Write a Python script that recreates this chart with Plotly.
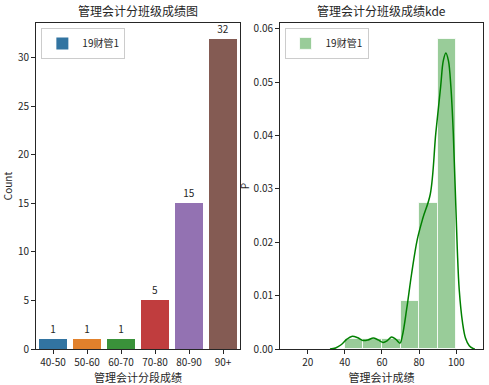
import plotly.graph_objects as go

# ---- data ----
seg_labels = ["40-50", "50-60", "60-70", "70-80", "80-90", "90+"]
seg_counts = [1, 1, 1, 5, 15, 32]
bar_colors = ["#3274a1", "#e1812c", "#3a923a", "#c03d3e", "#9372b2", "#845b53"]

hist_centers = [45, 55, 65, 75, 85, 95]
hist_counts = [1, 1, 1, 5, 15, 32]
bin_width = 10

kde_x = [32, 35, 38, 41, 43.7, 47, 49.8, 52.5, 55.3, 58, 60.7, 63, 65.2, 67.5, 69.7,
         71, 73.3, 76, 79, 82, 86, 89, 91.6, 93, 94.4, 95.8, 97.1, 98.4, 100.5,
         101.6, 103.4, 105, 107, 109, 110]
kde_y = [0.0, 0.0002, 0.0008, 0.0018, 0.00236, 0.0021, 0.0016, 0.0017, 0.00206, 0.0017,
         0.00124, 0.0016, 0.00225, 0.0018, 0.0011, 0.0025, 0.0075, 0.0142, 0.0205,
         0.0245, 0.0290, 0.0405, 0.0492, 0.0540, 0.0555, 0.0540, 0.0492, 0.0405,
         0.0192, 0.0111, 0.0049, 0.0020, 0.0006, 0.0001, 0.0]

n_total = sum(hist_counts)
hist_density = [c / (n_total * bin_width) for c in hist_counts]

FONT = "Noto Sans CJK SC"
INK = "#262626"

fig = go.Figure()

fig.add_trace(go.Bar(
    x=seg_labels, y=seg_counts, marker=dict(color=bar_colors, line=dict(width=0)),
    width=0.8, name="19财管1", text=[str(v) for v in seg_counts],
    textposition="outside", cliponaxis=False,
    textfont=dict(size=10, color=INK, family=FONT),
    xaxis="x", yaxis="y", legend="legend", showlegend=True,
))

fig.add_trace(go.Bar(
    x=hist_centers, y=hist_density, width=bin_width,
    marker=dict(color="rgba(0,128,0,0.4)", line=dict(color="rgba(255,255,255,0.8)", width=1)),
    name="19财管1", xaxis="x2", yaxis="y2", legend="legend2", showlegend=True,
))

fig.add_trace(go.Scatter(
    x=kde_x, y=kde_y, mode="lines", line=dict(color="green", width=1.5, shape="spline"),
    xaxis="x2", yaxis="y2", showlegend=False,
))

axis_common = dict(showline=True, linecolor=INK, linewidth=1, mirror=True,
                   ticks="outside", ticklen=4, tickcolor=INK, showgrid=False,
                   zeroline=False, tickfont=dict(size=10, color=INK, family=FONT))

fig.update_layout(
    width=489, height=385,
    margin=dict(l=36, r=6, t=23, b=36),
    paper_bgcolor="white", plot_bgcolor="white",
    font=dict(family=FONT, color=INK, size=10),
    bargap=0,
    xaxis=dict(domain=[0, 0.4564], range=[-0.5, 5.5], type="category",
               title=dict(text="管理会计分段成绩", font=dict(size=11), standoff=2), **axis_common),
    yaxis=dict(range=[0, 33.6], tickvals=[0, 5, 10, 15, 20, 25, 30],
               title=dict(text="Count", font=dict(size=10), standoff=4), **axis_common),
    xaxis2=dict(domain=[0.5459, 1], range=[5.1, 114.4], tickvals=[20, 40, 60, 80, 100],
                anchor="y2",
                title=dict(text="管理会计成绩", font=dict(size=11), standoff=2), **axis_common),
    yaxis2=dict(range=[0, 0.0611], tickvals=[0, 0.01, 0.02, 0.03, 0.04, 0.05, 0.06],
                tickformat=".2f", anchor="x2",
                title=dict(text="P", font=dict(size=10), standoff=2), **axis_common),
    legend=dict(x=0.012, y=0.985, xanchor="left", yanchor="top",
                bordercolor="#cccccc", borderwidth=1, bgcolor="white",
                tracegroupgap=0, itemwidth=30,
                font=dict(size=10, family=FONT, color=INK)),
    legend2=dict(x=0.556, y=0.985, xanchor="left", yanchor="top",
                 bordercolor="#cccccc", borderwidth=1, bgcolor="white",
                 tracegroupgap=0, itemwidth=30,
                 font=dict(size=10, family=FONT, color=INK)),
    annotations=[
        dict(text="管理会计分班级成绩图", x=0.2282, y=1, xref="paper", yref="paper",
             xanchor="center", yanchor="bottom", yshift=2, showarrow=False,
             font=dict(size=12, family=FONT, color=INK)),
        dict(text="管理会计分班级成绩kde", x=0.773, y=1, xref="paper", yref="paper",
             xanchor="center", yanchor="bottom", yshift=2, showarrow=False,
             font=dict(size=12, family=FONT, color=INK)),
    ],
)

fig.write_html("out.html", config={"displayModeBar": False},
               post_script="document.body.style.margin='0px';")
